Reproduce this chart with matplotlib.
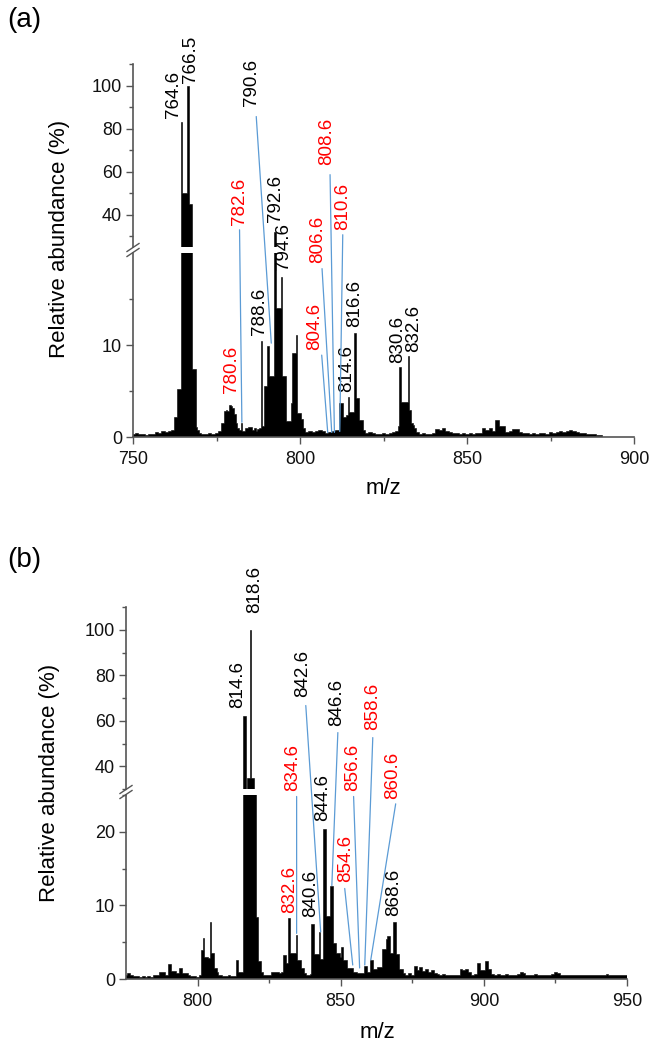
import numpy as np
import matplotlib
matplotlib.use("Agg")
import matplotlib.pyplot as plt
from matplotlib.patches import ConnectionPatch
from matplotlib.lines import Line2D
from matplotlib.ticker import FixedLocator

plt.rcParams['font.family'] = ['Liberation Sans', 'DejaVu Sans']

# ---- panel (a) spectrum ----
mz_a = [750, 751, 752, 753, 754, 755, 756, 757, 758, 759,
        760, 761, 762, 762.5, 763, 763.5, 764, 764.5, 765, 765.5,
        766, 766.5, 767, 767.5, 768, 768.5, 769, 769.5, 770, 771,
        772, 773, 774, 775, 776, 776.5, 777, 777.5, 778, 778.5,
        779, 779.5, 780, 780.5, 781, 781.5, 782, 782.5, 783, 784,
        785, 786, 786.5, 787, 787.5, 788, 788.5, 789, 789.5, 790,
        790.5, 791, 791.5, 792, 792.5, 793, 793.5, 794, 794.5, 795,
        795.5, 796, 796.5, 797, 797.5, 798, 798.5, 799, 799.5, 800,
        800.5, 801, 802, 803, 804, 805, 806, 807, 808, 809,
        810, 811, 811.5, 812, 812.5, 813, 813.5, 814, 814.5, 815,
        815.5, 816, 816.5, 817, 817.5, 818, 818.5, 819, 820, 821,
        822, 823, 824, 825, 826, 827, 828, 829, 829.5, 830,
        830.5, 831, 831.5, 832, 832.5, 833, 833.5, 834, 834.5, 835,
        836, 837, 838, 839, 840, 841, 842, 843, 844, 845,
        846, 847, 848, 849, 850, 851, 852, 853, 854, 855,
        856, 857, 858, 859, 860, 861, 862, 863, 864, 865,
        866, 867, 868, 869, 870, 871, 872, 873, 874, 875,
        876, 877, 878, 879, 880, 881, 882, 883, 884, 885,
        886, 887, 888, 889, 890]
ab_a = [0.3, 0.4, 0.3, 0.3, 0.2, 0.3, 0.3, 0.5, 0.4, 0.6,
        0.5, 0.6, 0.8, 2.2, 2.2, 5.2, 5.2, 83, 50, 50,
        50, 100, 45, 45, 7.4, 7.4, 1.1, 0.8, 0.4, 0.3,
        0.3, 0.4, 0.3, 0.4, 0.6, 1.5, 1.5, 2.8, 2.9, 2.8,
        3.5, 3.4, 3.2, 2.5, 1.5, 1.0, 0.8, 1.5, 0.6, 1.0,
        1.1, 0.8, 1.0, 0.7, 0.9, 1.0, 10.4, 1.2, 5.5, 5.5,
        9.9, 6.6, 6.6, 6.6, 32, 14, 14, 14, 17.4, 6.6,
        6.6, 1.7, 1.7, 1.7, 3.7, 9.1, 9.1, 11.1, 2.6, 2.6,
        2.0, 1.0, 0.5, 0.6, 0.5, 0.7, 0.8, 0.6, 0.4, 0.5,
        0.6, 0.8, 0.8, 3.7, 3.7, 2.2, 2.2, 2.4, 4.3, 2.7,
        2.7, 2.7, 11.3, 4.2, 4.2, 1.8, 1.8, 0.8, 0.4, 0.5,
        0.4, 0.3, 0.3, 0.4, 0.3, 0.4, 0.5, 0.6, 1.2, 7.6,
        3.8, 3.8, 3.8, 3.8, 8.8, 2.9, 1.5, 1.3, 1.0, 0.5,
        0.3, 0.4, 0.3, 0.3, 0.4, 0.9, 0.8, 1.0, 0.6, 0.5,
        0.4, 0.4, 0.3, 0.4, 0.3, 0.4, 0.3, 0.4, 0.4, 1.0,
        0.8, 1.0, 0.7, 1.8, 1.2, 1.2, 0.5, 0.6, 0.9, 0.9,
        0.5, 0.4, 0.4, 0.3, 0.4, 0.3, 0.4, 0.4, 0.3, 0.5,
        0.4, 0.5, 0.6, 0.5, 0.6, 0.8, 0.6, 0.5, 0.4, 0.4,
        0.3, 0.3, 0.3, 0.2, 0.2]

# peak labels: text, colour, x, y (bottom of text), section
labels_a = [("764.6", "k", 762.2, 85.0, "up"),
            ("766.5", "k", 767.3, 101.0, "up"),
            ("790.6", "k", 785.4, 90.7, "up"),
            ("792.6", "k", 792.6, 36.7, "up"),
            ("794.6", "k", 795.2, 18.2, "lo"),
            ("788.6", "k", 787.9, 11.1, "lo"),
            ("782.6", "r", 781.8, 35.3, "up"),
            ("780.6", "r", 779.5, 4.8, "lo"),
            ("808.6", "r", 808.1, 63.3, "up"),
            ("806.6", "r", 805.4, 18.9, "lo"),
            ("810.6", "r", 812.8, 33.0, "up"),
            ("804.6", "r", 804.5, 9.5, "lo"),
            ("814.6", "k", 814.0, 4.9, "lo"),
            ("816.6", "k", 816.5, 12.0, "lo"),
            ("830.6", "k", 829.3, 8.0, "lo"),
            ("832.6", "k", 834.0, 9.2, "lo")]
leaders_a = [(786.9, 85.6, "up", 791.4, 10.2, "lo"),
             (781.9, 33.0, "up", 782.6, 1.6, "lo"),
             (809.0, 58.6, "up", 810.3, 0.5, "lo"),
             (806.6, 18.3, "lo", 809.5, 0.5, "lo"),
             (812.8, 30.7, "up", 811.9, 0.6, "lo"),
             (806.5, 8.9, "lo", 808.3, 0.5, "lo")]

# ---- panel (b) spectrum ----
mz_b = [775, 776, 777, 778, 779, 780, 781, 782, 783, 784,
        785, 786, 787, 788, 789, 790, 790.5, 791, 792, 793,
        794, 795, 796, 797, 798, 799, 800, 801, 801.5, 802,
        802.5, 803, 803.5, 804, 804.5, 805, 805.5, 806, 806.5, 807,
        807.5, 808, 809, 810, 811, 812, 813, 813.5, 814, 814.5,
        815, 815.5, 816, 816.5, 817, 817.5, 818, 818.5, 819, 819.5,
        820, 820.5, 821, 821.5, 822, 822.5, 823, 824, 825, 826,
        827, 828, 829, 829.5, 830, 830.5, 831, 831.5, 832, 832.5,
        833, 833.5, 834, 834.5, 835, 835.5, 836, 836.5, 837, 837.5,
        838, 838.5, 839, 839.5, 840, 840.5, 841, 841.5, 842, 842.5,
        843, 843.5, 844, 844.5, 845, 845.5, 846, 846.5, 847, 847.5,
        848, 848.5, 849, 849.5, 850, 850.5, 851, 851.5, 852, 852.5,
        853, 853.5, 854, 854.5, 855, 855.5, 856, 856.5, 857, 857.5,
        858, 858.5, 859, 859.5, 860, 860.5, 861, 861.5, 862, 862.5,
        863, 863.5, 864, 864.5, 865, 865.5, 866, 866.5, 867, 867.5,
        868, 868.5, 869, 869.5, 870, 870.5, 871, 871.5, 872, 873,
        874, 875, 876, 877, 878, 879, 880, 881, 882, 883,
        884, 885, 886, 887, 888, 889, 890, 891, 892, 893,
        894, 895, 896, 897, 898, 899, 900, 900.5, 901, 902,
        903, 904, 905, 906, 907, 908, 909, 910, 911, 912,
        913, 914, 915, 916, 917, 918, 919, 920, 921, 922,
        923, 924, 925, 926, 927, 928, 929, 930, 931, 932,
        933, 934, 935, 936, 937, 938, 939, 940, 941, 942,
        943, 944, 945, 946, 947, 948, 949, 950]
ab_b = [0.5, 0.8, 0.5, 0.4, 0.4, 0.3, 0.4, 0.3, 0.4, 0.3,
        0.5, 0.5, 1.0, 0.9, 0.6, 2.0, 2.0, 1.1, 1.1, 0.8,
        1.5, 0.8, 0.8, 0.5, 0.4, 0.4, 0.3, 0.5, 4.0, 5.6,
        3.0, 3.0, 3.0, 2.8, 7.8, 3.6, 3.6, 1.5, 1.5, 1.0,
        0.6, 0.5, 0.4, 0.4, 0.5, 0.4, 0.4, 2.6, 2.6, 1.0,
        1.0, 1.0, 62, 62, 28, 35, 35, 100, 35, 35,
        30, 8.4, 8.4, 2.5, 2.5, 1.0, 0.6, 0.5, 0.5, 1.0,
        0.9, 1.0, 0.8, 0.9, 3.3, 3.3, 2.2, 2.2, 8.3, 3.6,
        3.6, 3.6, 3.6, 6.0, 2.6, 2.6, 2.6, 1.5, 1.5, 0.8,
        0.6, 0.6, 0.6, 0.7, 7.5, 7.5, 3.4, 3.4, 3.4, 6.4,
        2.7, 2.7, 20.4, 20.4, 8.5, 8.5, 8.5, 12.7, 12.7, 4.9,
        4.9, 3.5, 3.5, 3.5, 3.0, 4.4, 2.6, 2.6, 2.6, 1.5,
        1.5, 1.5, 1.5, 1.0, 1.0, 1.0, 0.8, 0.8, 0.8, 0.8,
        0.8, 1.8, 1.8, 1.0, 1.0, 2.6, 2.6, 1.3, 1.3, 1.3,
        1.6, 1.6, 1.6, 4.1, 4.1, 4.1, 5.5, 5.8, 5.8, 3.5,
        3.5, 7.7, 7.7, 3.4, 3.4, 1.4, 1.4, 1.4, 0.8, 0.6,
        0.8, 0.6, 1.8, 1.2, 1.6, 1.1, 1.3, 0.9, 1.2, 0.8,
        0.7, 0.6, 0.7, 0.5, 0.6, 0.5, 0.6, 0.6, 1.4, 1.2,
        1.3, 1.0, 0.6, 0.7, 2.2, 1.2, 1.2, 2.5, 2.5, 1.3,
        0.7, 0.6, 0.7, 0.5, 0.6, 0.7, 0.5, 0.6, 0.5, 0.7,
        0.9, 0.8, 0.6, 0.5, 0.6, 0.7, 0.5, 0.6, 0.5, 0.6,
        0.5, 0.7, 0.9, 0.8, 0.6, 0.5, 0.6, 0.5, 0.6, 0.5,
        0.6, 0.5, 0.6, 0.5, 0.6, 0.5, 0.5, 0.6, 0.5, 0.6,
        0.7, 0.6, 0.5, 0.6, 0.5, 0.6, 0.5, 0.5]

labels_b = [("814.6", "k", 814.0, 65.8, "up"),
            ("818.6", "k", 819.9, 107.5, "up"),
            ("842.6", "k", 836.8, 70.6, "up"),
            ("846.6", "k", 848.6, 57.9, "up"),
            ("858.6", "r", 861.0, 56.0, "up"),
            ("856.6", "r", 854.2, 25.6, "lo"),
            ("860.6", "r", 868.2, 24.4, "lo"),
            ("834.6", "r", 833.3, 25.6, "lo"),
            ("854.6", "r", 851.7, 13.2, "lo"),
            ("844.6", "k", 843.7, 21.4, "lo"),
            ("840.6", "k", 839.5, 8.4, "lo"),
            ("832.6", "r", 832.2, 9.0, "lo"),
            ("868.6", "k", 868.5, 8.5, "lo")]
leaders_b = [(837.8, 66.7, "up", 843.0, 6.4, "lo"),
             (849.0, 54.8, "up", 846.9, 12.7, "lo"),
             (861.2, 52.6, "up", 858.4, 1.9, "lo"),
             (854.5, 24.8, "lo", 856.6, 1.5, "lo"),
             (869.2, 23.8, "lo", 860.5, 2.6, "lo"),
             (834.6, 24.8, "lo", 834.6, 6.2, "lo"),
             (851.4, 12.3, "lo", 854.2, 1.9, "lo")]

W, H = 654, 1050
spine_col = '#555555'
lead_col = '#5b9bd5'
colours = {"k": "#000000", "r": "#ff0000"}

fig = plt.figure(figsize=(W / 100, H / 100), dpi=100)


def style_axis(ax, show_bottom):
    ax.set_facecolor('none')
    for s in ['top', 'right']:
        ax.spines[s].set_visible(False)
    ax.spines['bottom'].set_visible(show_bottom)
    for s in ['left', 'bottom']:
        ax.spines[s].set_color(spine_col)
        ax.spines[s].set_linewidth(1.2)
    ax.tick_params(which='both', direction='out', color=spine_col, width=1.0,
                   labelsize=13, labelcolor='#111111')
    ax.tick_params(which='major', length=5, pad=3)
    ax.tick_params(which='minor', length=3)
    if not show_bottom:
        ax.tick_params(axis='x', which='both', bottom=False, labelbottom=False)


def draw_panel(pos_up, pos_lo, mz, ab, labels, leaders, xlim, xmaj, xmin,
               up_lim, lo_lim, lo_maj, lo_min, up_min):
    ax_up = fig.add_axes(pos_up)
    ax_lo = fig.add_axes(pos_lo)
    mz = np.asarray(mz, dtype=float)
    ab = np.asarray(ab, dtype=float)
    mids = (mz[:-1] + mz[1:]) / 2
    edges = np.concatenate([[mz[0] - (mz[1] - mz[0]) / 2], mids,
                            [mz[-1] + (mz[-1] - mz[-2]) / 2]])
    for ax in (ax_up, ax_lo):
        ax.stairs(ab, edges, fill=True, facecolor='black', edgecolor='black',
                  linewidth=0.4)
        ax.set_xlim(*xlim)
    ax_up.set_ylim(*up_lim)
    ax_lo.set_ylim(*lo_lim)
    style_axis(ax_up, False)
    style_axis(ax_lo, True)
    ax_lo.xaxis.set_major_locator(FixedLocator(xmaj))
    ax_lo.xaxis.set_minor_locator(FixedLocator(xmin))
    ax_lo.yaxis.set_major_locator(FixedLocator(lo_maj))
    ax_lo.yaxis.set_minor_locator(FixedLocator(lo_min))
    ax_up.yaxis.set_major_locator(FixedLocator([40, 60, 80, 100]))
    ax_up.yaxis.set_minor_locator(FixedLocator(up_min))
    ax_lo.tick_params(axis='x', pad=5)

    axes = {"up": ax_up, "lo": ax_lo}
    for txt, c, x, y, sec in labels:
        axes[sec].text(x, y, txt, rotation=90, ha='center', va='bottom',
                       fontsize=13.5, color=colours[c], clip_on=False)
    for x0, y0, s0, x1, y1, s1 in leaders:
        con = ConnectionPatch(xyA=(x0, y0), coordsA=axes[s0].transData,
                              xyB=(x1, y1), coordsB=axes[s1].transData,
                              color=lead_col, lw=0.9)
        fig.add_artist(con)

    # break marks on the left spine
    p_up = ax_up.get_position()
    p_lo = ax_lo.get_position()
    xb = p_lo.x0
    yc = (p_lo.y1 + p_up.y0) / 2
    dx, dy, off = 6 / W, 4 / H, 2.5 / H
    for o in (-off, off):
        fig.add_artist(Line2D([xb - dx, xb + dx], [yc - dy + o, yc + dy + o],
                              transform=fig.transFigure, color=spine_col, lw=1.0))
    return ax_up, ax_lo


# panel (a)
draw_panel([133 / W, 1 - 247 / H, 501 / W, 183 / H],
           [133 / W, 1 - 437 / H, 501 / W, 184 / H],
           mz_a, ab_a, labels_a, leaders_a,
           (750, 900), [750, 800, 850, 900], [775, 825, 875],
           (25, 110), (0, 20), [0, 10], [5, 15], [30, 50, 70, 90, 110])

# panel (b)
draw_panel([126 / W, 1 - 789 / H, 501 / W, 182 / H],
           [126 / W, 1 - 979 / H, 501 / W, 184 / H],
           mz_b, ab_b, labels_b, leaders_b,
           (775, 950), [800, 850, 900, 950], [825, 875, 925],
           (30, 110), (0, 25), [0, 10, 20], [5, 15, 25], [30, 50, 70, 90, 110])

# axis titles and panel letters
fig.text(59 / W, 1 - 239 / H, "Relative abundance (%)", rotation=90,
         ha='center', va='center', fontsize=16)
fig.text(50 / W, 1 - 783 / H, "Relative abundance (%)", rotation=90,
         ha='center', va='center', fontsize=16)
fig.text(383 / W, 1 - 488 / H, "m/z", ha='center', va='center', fontsize=16)
fig.text(377 / W, 1 - 1033 / H, "m/z", ha='center', va='center', fontsize=16)
fig.text(24 / W, 1 - 20 / H, "(a)", ha='center', va='center', fontsize=20)
fig.text(24 / W, 1 - 560 / H, "(b)", ha='center', va='center', fontsize=20)

fig.savefig("out.png", dpi=100)
